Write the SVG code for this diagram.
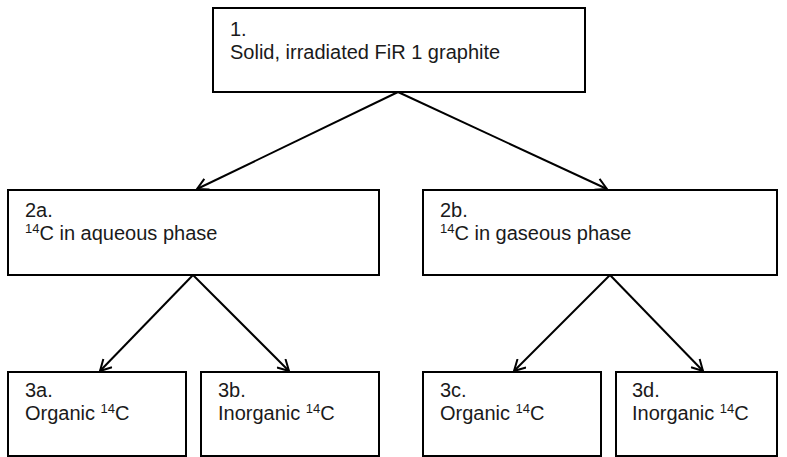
<svg xmlns="http://www.w3.org/2000/svg" width="787" height="457" viewBox="0 0 787 457">
<defs>
<style>
.box{fill:#fff;stroke:#000;stroke-width:2}
text{font-family:"Liberation Sans",Arial,sans-serif;font-size:20px;fill:#1a1a1a}
.sup{font-size:13px}
.c line{stroke:#000;stroke-width:2;marker-end:url(#a)}
</style>
<marker id="a" viewBox="0 0 14 14" markerWidth="14" markerHeight="14" refX="12" refY="7" orient="auto" markerUnits="userSpaceOnUse">
<path d="M1,1 L12,7 L1,13" fill="none" stroke="#000" stroke-width="2"/>
</marker>
</defs>
<rect width="787" height="457" fill="#fff"/>
<g class="c" id="connectors">
<line x1="398" y1="92" x2="197" y2="189"/>
<line x1="398" y1="92" x2="607" y2="189"/>
<line x1="193" y1="275" x2="100" y2="371"/>
<line x1="193" y1="275" x2="289" y2="371"/>
<line x1="610" y1="275" x2="514" y2="371"/>
<line x1="610" y1="275" x2="703" y2="371"/>
</g>
<g id="n1"><rect class="box" x="213" y="8" width="372" height="84"/>
<text x="230" y="36">1.</text><text x="230" y="59">Solid, irradiated FiR 1 graphite</text></g>
<g id="n2a"><rect class="box" x="8" y="190" width="371" height="85"/>
<text x="25" y="217">2a.</text><text x="25" y="240"><tspan class="sup" dy="-7">14</tspan><tspan dy="7">C in aqueous phase</tspan></text></g>
<g id="n2b"><rect class="box" x="423" y="190" width="354" height="85"/>
<text x="440" y="217">2b.</text><text x="440" y="240"><tspan class="sup" dy="-7">14</tspan><tspan dy="7">C in gaseous phase</tspan></text></g>
<g id="n3a"><rect class="box" x="8" y="372" width="178" height="84"/>
<text x="25" y="397">3a.</text><text x="25" y="420">Organic <tspan class="sup" dy="-7">14</tspan><tspan dy="7">C</tspan></text></g>
<g id="n3b"><rect class="box" x="201" y="372" width="178" height="84"/>
<text x="218" y="397">3b.</text><text x="218" y="420">Inorganic <tspan class="sup" dy="-7">14</tspan><tspan dy="7">C</tspan></text></g>
<g id="n3c"><rect class="box" x="423" y="372" width="178" height="84"/>
<text x="440" y="397">3c.</text><text x="440" y="420">Organic <tspan class="sup" dy="-7">14</tspan><tspan dy="7">C</tspan></text></g>
<g id="n3d"><rect class="box" x="616" y="372" width="161" height="84"/>
<text x="632" y="397">3d.</text><text x="632" y="420">Inorganic <tspan class="sup" dy="-7">14</tspan><tspan dy="7">C</tspan></text></g>
</svg>
